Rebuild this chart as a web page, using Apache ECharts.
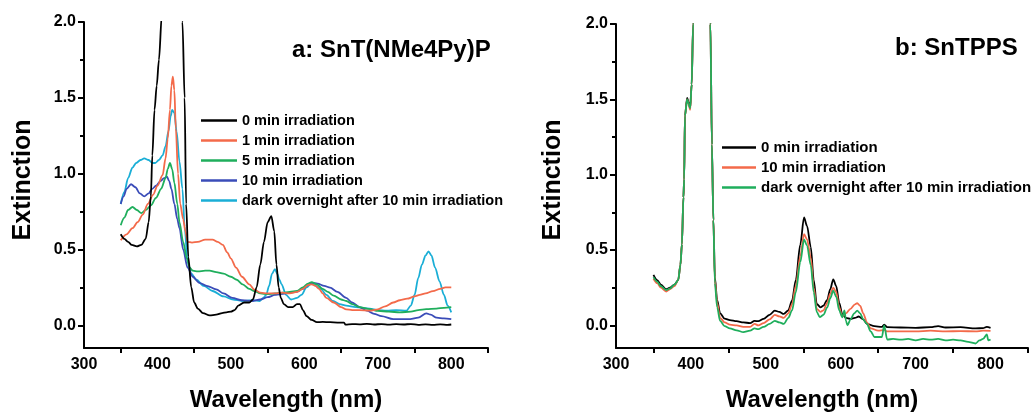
<!DOCTYPE html>
<html><head><meta charset="utf-8">
<script src="https://cdn.jsdelivr.net/npm/echarts@6/dist/echarts.min.js"></script>
<style>html,body{margin:0;padding:0;background:#fff}#c{width:1035px;height:417px}</style>
</head><body><div id="c"></div>
<script>
// ---------- DATA ----------
const legendA = ['0 min irradiation','1 min irradiation','5 min irradiation','10 min irradiation','dark overnight after 10 min irradiation'];
const legendB = ['0 min irradiation','10 min irradiation','dark overnight after 10 min irradiation'];
const titleA = 'a: SnT(NMe4Py)P';
const titleB = 'b: SnTPPS';
const xTickLabels = [300,400,500,600,700,800];
const xMinorTicks = [350,450,550,650,750,850];
const yTickLabels = [0,0.5,1,1.5,2];
const yMinorTicks = [0.25,0.75,1.25,1.75];

// panel a: [wavelength nm, extinction]
const a0min = [[350,0.60],[355,0.57],[360,0.55],[365,0.53],[372,0.52],[378,0.53],[384,0.57],[388,0.68],[391,0.85],[393,1.12],[396,1.42],[399,1.58],[402,1.75],[406,2.05],[412,2.6],[420,3.0],[428,2.6],[434,2.0],[437,1.5],[439,0.8],[442,0.45],[446,0.25],[450,0.15],[455,0.11],[462,0.08],[471,0.065],[480,0.07],[488,0.08],[494,0.085],[500,0.09],[505,0.10],[510,0.13],[518,0.15],[525,0.15],[530,0.17],[535,0.25],[540,0.40],[545,0.55],[550,0.68],[555,0.72],[559,0.62],[562,0.40],[565,0.25],[568,0.18],[572,0.14],[578,0.12],[584,0.12],[590,0.14],[594,0.14],[598,0.10],[603,0.06],[610,0.035],[617,0.02],[625,0.022],[635,0.02],[645,0.018],[654,0.018],[656,0.004],[665,0.008],[675,0.006],[685,0.009],[695,0.005],[705,0.008],[715,0.004],[725,0.007],[735,0.005],[745,0.008],[755,0.003],[765,0.006],[775,0.002],[785,0.006],[795,0.003],[800,0.005]];
const a1min = [[350,0.56],[358,0.60],[366,0.64],[373,0.68],[380,0.73],[387,0.80],[394,0.86],[400,0.92],[407,0.99],[411,1.10],[414,1.23],[417,1.42],[419,1.58],[421,1.64],[423,1.55],[425,1.30],[428,1.00],[431,0.80],[435,0.70],[438,0.62],[441,0.55],[447,0.545],[455,0.55],[465,0.565],[475,0.565],[482,0.55],[489,0.53],[495,0.48],[500,0.44],[507,0.38],[515,0.32],[525,0.27],[532,0.235],[540,0.215],[550,0.21],[560,0.21],[570,0.215],[580,0.21],[590,0.22],[598,0.24],[605,0.265],[610,0.27],[615,0.26],[620,0.24],[625,0.21],[630,0.18],[640,0.15],[650,0.12],[657,0.105],[665,0.10],[675,0.10],[689,0.096],[700,0.105],[710,0.125],[721,0.15],[730,0.165],[740,0.175],[750,0.19],[757,0.20],[765,0.21],[775,0.225],[785,0.24],[792,0.25],[800,0.25]];
const a5min = [[350,0.66],[355,0.71],[360,0.76],[366,0.78],[372,0.76],[378,0.74],[384,0.76],[391,0.79],[398,0.84],[405,0.90],[411,0.97],[414,1.03],[417,1.07],[420,1.03],[423,0.94],[427,0.80],[430,0.68],[435,0.55],[440,0.44],[444,0.38],[448,0.36],[455,0.355],[465,0.36],[471,0.36],[480,0.35],[490,0.34],[500,0.32],[508,0.30],[516,0.27],[525,0.24],[532,0.225],[540,0.21],[550,0.205],[560,0.21],[570,0.215],[580,0.22],[590,0.226],[598,0.25],[605,0.275],[610,0.285],[617,0.27],[625,0.24],[632,0.22],[640,0.195],[650,0.17],[657,0.16],[665,0.14],[675,0.12],[689,0.106],[700,0.095],[715,0.09],[730,0.085],[745,0.09],[755,0.10],[766,0.106],[780,0.11],[790,0.115],[800,0.12]];
const a10min = [[350,0.80],[354,0.85],[358,0.90],[364,0.93],[370,0.91],[376,0.87],[382,0.85],[388,0.87],[393,0.90],[398,0.92],[404,0.95],[409,0.97],[413,0.98],[416,0.95],[419,0.90],[423,0.80],[427,0.70],[430,0.64],[435,0.50],[441,0.38],[448,0.32],[457,0.28],[467,0.26],[480,0.237],[490,0.21],[502,0.18],[515,0.165],[530,0.16],[540,0.17],[550,0.185],[560,0.20],[566,0.204],[575,0.21],[589,0.22],[598,0.24],[605,0.265],[610,0.28],[618,0.275],[627,0.26],[635,0.248],[645,0.22],[657,0.18],[665,0.15],[675,0.12],[685,0.096],[695,0.075],[705,0.06],[721,0.04],[735,0.04],[744,0.04],[755,0.05],[766,0.078],[772,0.07],[780,0.05],[790,0.045],[800,0.04]];
const aDark = [[350,0.80],[355,0.88],[360,0.97],[366,1.04],[371,1.07],[377,1.09],[382,1.10],[388,1.09],[393,1.07],[397,1.07],[402,1.09],[407,1.12],[411,1.18],[415,1.28],[418,1.38],[420,1.42],[423,1.40],[426,1.28],[430,1.08],[434,0.90],[437,0.65],[441,0.42],[446,0.34],[453,0.30],[463,0.26],[475,0.226],[490,0.19],[503,0.17],[515,0.16],[530,0.165],[539,0.16],[544,0.18],[548,0.20],[552,0.26],[556,0.34],[560,0.37],[563,0.34],[566,0.30],[569,0.27],[575,0.20],[582,0.17],[590,0.18],[596,0.20],[603,0.25],[610,0.28],[616,0.26],[623,0.237],[630,0.20],[639,0.16],[648,0.14],[657,0.13],[670,0.12],[689,0.11],[700,0.10],[712,0.096],[725,0.10],[739,0.096],[745,0.13],[750,0.20],[755,0.31],[760,0.40],[765,0.46],[769,0.487],[773,0.46],[778,0.38],[784,0.29],[790,0.20],[795,0.13],[800,0.085]];

// panel b
const b0min = [[350,0.335],[355,0.30],[360,0.27],[367,0.24],[372,0.25],[378,0.27],[383,0.30],[386,0.40],[388,0.54],[390,0.85],[391,0.97],[392,1.39],[395,1.51],[397,1.48],[399,1.44],[401,1.6],[403,2.0],[410,2.8],[418,2.8],[424,2.3],[426,2.0],[428,1.2],[430,0.7],[432,0.32],[435,0.17],[439,0.08],[445,0.045],[452,0.035],[461,0.028],[470,0.02],[479,0.015],[485,0.03],[490,0.028],[497,0.043],[505,0.07],[512,0.098],[518,0.09],[524,0.076],[530,0.10],[535,0.164],[540,0.30],[546,0.536],[551,0.716],[555,0.66],[560,0.52],[564,0.30],[568,0.142],[573,0.12],[577,0.131],[582,0.17],[586,0.24],[590,0.306],[594,0.26],[598,0.15],[602,0.076],[607,0.05],[613,0.043],[619,0.05],[624,0.059],[630,0.04],[635,0.01],[645,-0.005],[655,-0.01],[658,0.005],[662,-0.012],[680,-0.014],[700,-0.016],[720,-0.012],[730,-0.005],[740,-0.014],[760,-0.012],[780,-0.02],[790,-0.018],[795,-0.01],[800,-0.016]];
const b10min = [[350,0.31],[355,0.28],[360,0.25],[367,0.225],[372,0.24],[378,0.26],[383,0.30],[386,0.40],[388,0.54],[390,0.85],[391,0.97],[392,1.39],[395,1.50],[397,1.47],[399,1.43],[401,1.6],[403,2.0],[410,2.8],[418,2.8],[424,2.3],[426,2.0],[428,1.2],[430,0.7],[432,0.30],[435,0.15],[439,0.05],[445,0.02],[452,0.005],[461,0.0],[470,-0.01],[479,-0.01],[485,0.01],[490,0.0],[497,0.015],[505,0.04],[512,0.07],[518,0.06],[524,0.05],[530,0.08],[535,0.14],[540,0.26],[546,0.46],[551,0.606],[555,0.57],[560,0.45],[564,0.25],[568,0.11],[573,0.09],[577,0.10],[582,0.15],[586,0.21],[590,0.25],[594,0.22],[598,0.12],[602,0.06],[607,0.08],[613,0.11],[619,0.14],[622,0.147],[626,0.13],[630,0.08],[635,0.02],[640,-0.02],[650,-0.035],[658,-0.03],[662,-0.04],[680,-0.04],[700,-0.04],[720,-0.035],[740,-0.04],[760,-0.038],[780,-0.04],[790,-0.035],[800,-0.037]];
const bDark = [[350,0.32],[355,0.29],[360,0.26],[367,0.235],[372,0.245],[378,0.27],[383,0.30],[386,0.40],[388,0.54],[390,0.85],[391,0.97],[392,1.39],[395,1.50],[397,1.47],[399,1.44],[401,1.6],[403,2.0],[410,2.8],[418,2.8],[424,2.3],[426,2.0],[428,1.2],[430,0.7],[432,0.28],[435,0.12],[439,0.03],[445,-0.005],[452,-0.02],[461,-0.033],[470,-0.045],[479,-0.035],[485,-0.02],[490,-0.025],[497,-0.01],[505,0.01],[512,0.03],[518,0.02],[524,0.01],[530,0.05],[535,0.10],[540,0.22],[546,0.42],[551,0.57],[555,0.53],[560,0.40],[564,0.22],[568,0.09],[572,0.055],[577,0.07],[582,0.12],[586,0.18],[590,0.23],[594,0.19],[598,0.10],[602,0.054],[605,0.10],[607,0.03],[609,0.0],[613,0.04],[618,0.08],[622,0.098],[626,0.08],[630,0.04],[635,0.01],[640,-0.04],[645,-0.077],[655,-0.077],[658,0.0],[662,-0.094],[670,-0.09],[680,-0.095],[690,-0.09],[700,-0.10],[710,-0.09],[720,-0.095],[730,-0.09],[740,-0.10],[750,-0.095],[760,-0.10],[770,-0.11],[780,-0.12],[785,-0.10],[790,-0.09],[795,-0.06],[797,-0.10],[800,-0.094]];

// ---------- STYLE ----------
const FONT = '"Liberation Sans", Arial, Helvetica, sans-serif';
const colsA = ['#000000','#f36a4a','#1fae5c','#3a4cb8','#1aaed6'];
const colsB = ['#000000','#f36a4a','#1fae5c'];
const seriesA = [a0min,a1min,a5min,a10min,aDark];
const seriesB = [b0min,b10min,bDark];

const chart = echarts.init(document.getElementById('c'), null, {renderer:'canvas'});

function xAxisDef(gi){
  return {
    type:'value', gridIndex:gi, min:300, max:850, position:'bottom',
    axisLine:{show:true, onZero:false, lineStyle:{color:'#000', width:2}},
    axisTick:{show:true, customValues:xMinorTicks, length:5, lineStyle:{color:'#000', width:2}},
    axisLabel:{show:true, customValues:xTickLabels, margin:9, color:'#000', fontFamily:FONT, fontWeight:'bold', fontSize:16},
    splitLine:{show:false},
    name:'Wavelength (nm)', nameLocation:'middle', nameGap:40,
    nameTextStyle:{color:'#000', fontFamily:FONT, fontWeight:'bold', fontSize:24}
  };
}
function yAxisDefs(gi){
  return [{
    type:'value', gridIndex:gi, min:-0.15, max:2.0, position:'left',
    axisLine:{show:true, onZero:false, lineStyle:{color:'#000', width:2}},
    axisTick:{show:true, customValues:yTickLabels, length:6, lineStyle:{color:'#000', width:2}},
    axisLabel:{show:true, customValues:yTickLabels, margin:8, color:'#000', fontFamily:FONT, fontWeight:'bold', fontSize:16,
      formatter:v=>v.toFixed(1)},
    splitLine:{show:false}
  },{
    type:'value', gridIndex:gi, min:-0.15, max:2.0, position:'left', offset:0,
    axisLine:{show:false, onZero:false},
    axisTick:{show:true, customValues:yMinorTicks, length:4, lineStyle:{color:'#000', width:2}},
    axisLabel:{show:false}, splitLine:{show:false}
  }];
}

const series = [];
seriesA.forEach((d,i)=>series.push({
  name:legendA[i], type:'line', xAxisIndex:0, yAxisIndex:0, data:d,
  showSymbol:false, symbol:'none', smooth:0.3, smoothMonotone:'x', clip:true,
  lineStyle:{color:colsA[i], width:1.8}, itemStyle:{color:colsA[i]}, z:10-i
}));
seriesB.forEach((d,i)=>series.push({
  name:legendB[i]+' ', type:'line', xAxisIndex:1, yAxisIndex:2, data:d,
  showSymbol:false, symbol:'none', smooth:0.3, smoothMonotone:'x', clip:true,
  lineStyle:{color:colsB[i], width:1.8}, itemStyle:{color:colsB[i]}, z:5+i
}));

const legendText = {color:'#000', fontFamily:FONT, fontWeight:'bold', fontSize:14.5, lineHeight:14};

chart.setOption({
  animation:false,
  backgroundColor:'#fff',
  title:[
    {text:titleA, left:292, top:38, padding:0, textStyle:{color:'#000', fontFamily:FONT, fontWeight:'bold', fontSize:24}},
    {text:titleB, left:895, top:36, padding:0, textStyle:{color:'#000', fontFamily:FONT, fontWeight:'bold', fontSize:24}}
  ],
  legend:[
    {data:legendA, orient:'vertical', left:201, top:113, padding:0, itemWidth:36, itemHeight:2.5, itemGap:5, icon:'rect',
     textStyle:Object.assign({}, legendText, {lineHeight:13.5}), selectedMode:false},
    {data:legendB.map(n=>n+' '), orient:'vertical', left:722, top:140, padding:0, itemWidth:34, itemHeight:2.5, itemGap:5, icon:'rect',
     textStyle:Object.assign({}, legendText, {fontSize:15}), selectedMode:false}
  ],
  grid:[
    {left:84, top:22, width:404, height:329, containLabel:false},
    {left:616, top:24, width:412, height:328, containLabel:false}
  ],
  xAxis:[xAxisDef(0), xAxisDef(1)],
  yAxis:[...yAxisDefs(0), ...yAxisDefs(1)],
  graphic:[
    {type:'text', x:23, y:180, rotation:Math.PI/2, style:{text:'Extinction', fill:'#000', font:'bold 25px '+FONT, textAlign:'center', textVerticalAlign:'middle'}},
    {type:'text', x:553, y:180, rotation:Math.PI/2, style:{text:'Extinction', fill:'#000', font:'bold 25px '+FONT, textAlign:'center', textVerticalAlign:'middle'}}
  ],
  series:series
});
</script>
</body></html>
